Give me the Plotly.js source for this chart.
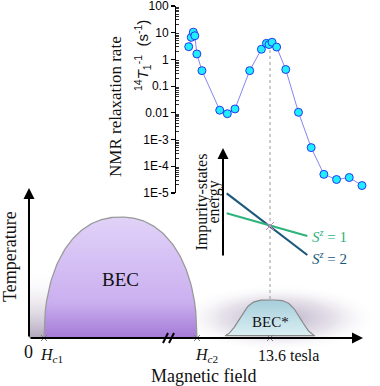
<!DOCTYPE html>
<html><head><meta charset="utf-8">
<script src="https://cdn.plot.ly/plotly-3.0.1.min.js"></script>
<style>html,body{margin:0;padding:0;background:#fff}#c{width:380px;height:386px}</style>
</head><body><div id="c"></div>
<script>
// ---- NMR data (inset) ----
const fieldT = [12.0, 12.05, 12.09, 12.12, 12.16, 12.26, 12.61, 12.76, 12.91, 13.2, 13.43, 13.53, 13.58, 13.64, 13.73, 13.91, 14.16, 14.41, 14.66, 14.91, 15.16, 15.41];
const rateT1 = [3.0, 6.7, 10.5, 7.7, 1.6, 0.38, 0.0126, 0.0093, 0.014, 0.38, 2.4, 4.0, 3.6, 4.4, 2.9, 0.42, 0.0105, 5.0e-4, 5.0e-5, 3.2e-5, 3.8e-5, 1.9e-5];
const rateTickVals = [1e-5, 1e-4, 1e-3, 0.01, 0.1, 1, 10, 100];
const rateTickText = ['1E-5', '1E-4', '1E-3', '0.01', '0.1', '1', '10', '100'];
const levelCrossField = 13.6;

// ---- schematic phase diagram (arbitrary units) ----
const hc1 = 15, hc2 = 168, becTop = 121;
const becStarCenter = 241, becStarHalfWidth = 45, becStarTop = 37;
const markFields = [hc1, hc2, becStarCenter];
const markLabels = ['<i>H</i><sub><i>c</i>1</sub>', '<i>H</i><sub><i>c</i>2</sub>', '13.6 tesla'];
// impurity-level energies (schematic), at left and right end of lines
const levelX = [197.7, 278.3];
const levelS1 = [124.7, 102];
const levelS2 = [144.7, 83];

function dome(a, b, h, p, n) {
  const xs = [], ys = [];
  for (let i = 0; i <= n; i++) {
    const u = -1 + 2 * i / n;
    xs.push((a + b) / 2 + u * (b - a) / 2);
    ys.push(h * Math.pow(Math.max(0, 1 - Math.pow(Math.abs(u), p)), 1 / p));
  }
  return {xs, ys};
}
function bump(c, hw, h, base, n) {
  const xs = [], ys = [];
  for (let i = 0; i <= n; i++) {
    const dx = -hw + 2 * hw * i / n;
    xs.push(c + dx);
    ys.push(base + h * Math.exp(-Math.pow(Math.abs(dx / (hw * 0.74)), 4)));
  }
  return {xs, ys};
}
function ellipse(cx, cy, rx, ry, n) {
  const xs = [], ys = [];
  for (let i = 0; i <= n; i++) {
    const t = 2 * Math.PI * i / n;
    xs.push(cx + rx * Math.cos(t)); ys.push(cy + ry * Math.sin(t));
  }
  return {xs, ys};
}

const serif = 'Liberation Serif, Times New Roman, serif';
const traces = [];

// haze around BEC*
const hz = ellipse(becStarCenter + 8, 20, 102, 34, 80);
traces.push({x: hz.xs, y: hz.ys, xaxis: 'x', yaxis: 'y', mode: 'lines', line: {width: 0}, fill: 'toself',
  fillgradient: {type: 'radial', colorscale: [[0, 'rgba(110,85,135,0.5)'], [0.55, 'rgba(140,120,160,0.22)'], [1, 'rgba(255,255,255,0)']]}, hoverinfo: 'skip'});
// haze left of BEC dome
traces.push({x: [0, 40, 40, 0, 0], y: [0, 0, 70, 70, 0], xaxis: 'x', yaxis: 'y', mode: 'lines', line: {width: 0}, fill: 'toself',
  fillgradient: {type: 'vertical', start: 0, stop: 70, colorscale: [[0, 'rgba(150,135,165,0.75)'], [1, 'rgba(255,255,255,0)']]}, hoverinfo: 'skip'});

// BEC dome
const d = dome(hc1, hc2, becTop, 2.2, 120);
traces.push({x: d.xs.concat([hc1]), y: d.ys.concat([0]), xaxis: 'x', yaxis: 'y', mode: 'lines', line: {color: '#9a9a9a', width: 1.3}, fill: 'toself',
  fillgradient: {type: 'vertical', start: 0, stop: becTop, colorscale: [[0, '#a47ad6'], [0.3, '#cbb0f0'], [1, '#e0d2f8']]}, hoverinfo: 'skip'});

// BEC* dome
const b = bump(becStarCenter, becStarHalfWidth, becStarTop, 1, 80);
traces.push({x: b.xs.concat([b.xs[0]]), y: b.ys.concat([b.ys[0]]), xaxis: 'x', yaxis: 'y', mode: 'lines', line: {color: '#8a8a8a', width: 1.2}, fill: 'toself',
  fillgradient: {type: 'vertical', start: 1, stop: 1 + becStarTop, colorscale: [[0, '#dcf0f4'], [1, '#a6cedb']]}, hoverinfo: 'skip'});

// energy levels
traces.push({x: levelX, y: levelS2, xaxis: 'x', yaxis: 'y', mode: 'lines', line: {color: '#1c5a7c', width: 2.2}, hoverinfo: 'skip'});
traces.push({x: levelX, y: levelS1, xaxis: 'x', yaxis: 'y', mode: 'lines', line: {color: '#2fb37c', width: 2.2}, hoverinfo: 'skip'});
traces.push({x: [becStarCenter], y: [112], xaxis: 'x', yaxis: 'y', mode: 'markers', marker: {symbol: 'x-thin-open', size: 8, line: {color: '#555', width: 1}}, hoverinfo: 'skip'});

// field marks on axis
traces.push({x: markFields, y: markFields.map(() => 0), xaxis: 'x', yaxis: 'y', mode: 'markers', marker: {symbol: 'x-thin-open', size: 6, line: {color: '#333', width: 1}}, hoverinfo: 'skip'});

// NMR data
traces.push({x: fieldT, y: rateT1, xaxis: 'x2', yaxis: 'y2', mode: 'lines+markers',
  line: {color: '#8585f0', width: 1}, marker: {size: 8, color: '#20eeff', line: {color: '#2020f0', width: 0.9}}});

const ann = [];
function txt(x, y, text, size, opts) {
  ann.push(Object.assign({x, y, xref: 'x', yref: 'y', text, showarrow: false, font: {family: serif, size, color: '#111'}}, opts || {}));
}
txt(-1, -14, '0', 18);
markLabels.forEach((t, i) => txt(markFields[i] + [7, 9, 18][i], -17, t, 16));
txt(174, -38, 'Magnetic field', 18);
txt(-19, 81, 'Temperature', 18, {textangle: -90});
txt(91, 59, 'BEC', 19);
txt(becStarCenter, 16, 'BEC*', 15);
txt(281, 102, '<i>S</i><sup><i>z</i></sup> = 1', 15, {xanchor: 'left', font: {family: serif, size: 15, color: '#2fb37c'}});
txt(281, 80, '<i>S</i><sup><i>z</i></sup> = 2', 15, {xanchor: 'left', font: {family: serif, size: 15, color: '#1c5a7c'}});
txt(172.5, 136, 'Impurity-states', 16, {textangle: -90});
txt(184.5, 136, 'energy', 16, {textangle: -90});
txt(86, 231, 'NMR relaxation rate', 17, {textangle: -90});
ann.push({x: 113, y: 282, xref: 'x', yref: 'y', showarrow: false, textangle: -90,
  text: '<sup>14</sup><i>T</i><sub>1</sub><sup>-1</sup>  (s<sup>-1</sup>)', font: {family: 'Liberation Sans, Arial, sans-serif', size: 15, color: '#111'}});

// arrows
function arrow(x0, y0, x1, y1) {
  ann.push({x: x1, y: y1, ax: x0, ay: y0, xref: 'x', yref: 'y', axref: 'x', ayref: 'y', text: '', showarrow: true,
    arrowhead: 2, arrowsize: 1.1, arrowwidth: 2, arrowcolor: '#000'});
}
arrow(0, 0, 334, 0);
arrow(0, 0, 0, 150);
arrow(194, 81, 194, 190);

const minorVals = [];
for (let k = -5; k < 2; k++) for (let m = 2; m <= 9; m++) minorVals.push(m * Math.pow(10, k));

const layout = {
  width: 380, height: 386, margin: {l: 0, r: 0, t: 0, b: 0},
  paper_bgcolor: '#fff', plot_bgcolor: 'rgba(0,0,0,0)', showlegend: false,
  xaxis: {range: [-29, 351], domain: [0, 1], visible: false, fixedrange: true},
  yaxis: {range: [-48, 338], domain: [0, 1], visible: false, fixedrange: true},
  xaxis2: {range: [8.285, 15.765], domain: [0, 1], anchor: 'y2', visible: false, fixedrange: true},
  yaxis2: {type: 'log', range: [-5.01, 2.01], domain: [0.4993, 0.9852], anchor: 'free', position: 175 / 380,
    showline: true, linecolor: '#000', linewidth: 1.3, ticks: 'outside', ticklen: 4, tickwidth: 1.2, tickcolor: '#000',
    tickmode: 'array', tickvals: rateTickVals, ticktext: rateTickText, ticklabeloverflow: 'allow',
    tickfont: {family: 'Liberation Sans, Arial, sans-serif', size: 12, color: '#000'},
    showgrid: false, zeroline: false, fixedrange: true,
    minor: {tickmode: 'array', tickvals: minorVals, ticks: 'inside', ticklen: 2.5, tickwidth: 0.8, tickcolor: '#000', showgrid: false}},
  shapes: [
    {type: 'line', xref: 'x2', yref: 'y', x0: levelCrossField, x1: levelCrossField, y0: 39, y1: 292, line: {color: '#999', width: 1, dash: 'dot'}, layer: 'below'},
    {type: 'line', xref: 'x', yref: 'y', x0: 134, x1: 139, y0: -5, y1: 5, line: {color: '#000', width: 2}},
    {type: 'line', xref: 'x', yref: 'y', x0: 140, x1: 145, y0: -5, y1: 5, line: {color: '#000', width: 2}}
  ],
  annotations: ann
};
Plotly.newPlot('c', traces, layout, {staticPlot: true, displayModeBar: false});
</script></body></html>
